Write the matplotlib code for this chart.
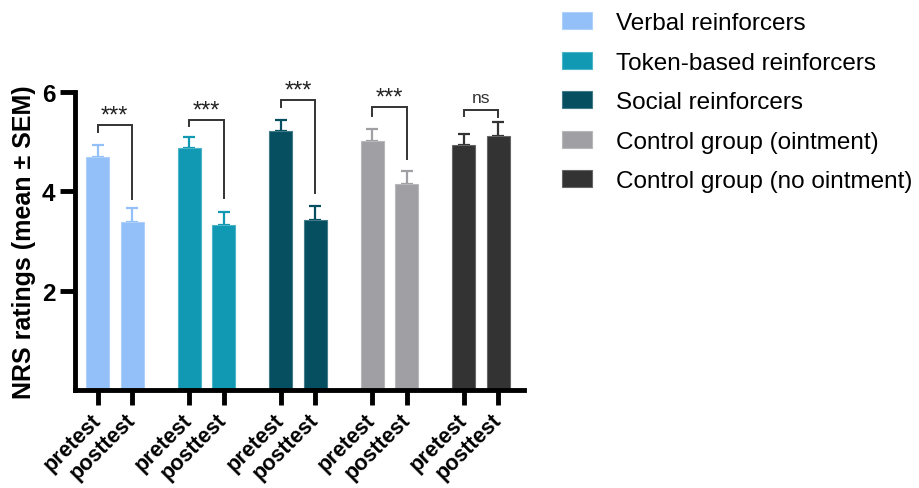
import matplotlib
matplotlib.use('Agg')
import matplotlib.pyplot as plt
from matplotlib.colors import to_rgb
import numpy as np

plt.rcParams['font.family'] = ['Liberation Sans', 'DejaVu Sans']

# ── Dados ──────────────────────────────────────────────────────────────────
grupos = ['Verbal reinforcers', 'Token-based reinforcers', 'Social reinforcers',
          'Control group (ointment)', 'Control group (no ointment)']
cores = ['#93C0F8', '#1199B3', '#054F60', '#A0A0A4', '#333333']
fases = ['pretest', 'posttest']
media_pre = [4.70, 4.87, 5.21, 5.02, 4.93]
media_pos = [3.39, 3.32, 3.42, 4.14, 5.11]
sem_pre = [0.23, 0.22, 0.22, 0.23, 0.23]
sem_pos = [0.28, 0.27, 0.29, 0.27, 0.28]
signif = ['***', '***', '***', '***', 'ns']
# alturas do colchete: (perna esquerda, topo, perna direita)
colchete = [(5.19, 5.33, 3.84), (5.32, 5.43, 3.87), (5.69, 5.83, 3.97),
            (5.51, 5.69, 4.65), (5.51, 5.64, 5.49)]


def clarear(c, f=0.25):
    r, g, b = to_rgb(c)
    return (r + (1 - r) * f, g + (1 - g) * f, b + (1 - b) * f)


# ── Figura ─────────────────────────────────────────────────────────────────
fig = plt.figure(figsize=(9.19, 4.89), dpi=100)
ax = fig.add_axes([0.0816, 0.2004, 0.4886, 0.6094])

passo = 2.65
larg = 0.667
xs, rotulos = [], []
for i, g in enumerate(grupos):
    x0 = i * passo
    x1 = x0 + 1
    for x, m, s in [(x0, media_pre[i], sem_pre[i]), (x1, media_pos[i], sem_pos[i])]:
        ax.bar(x, m, width=larg, color=cores[i], edgecolor=clarear(cores[i]),
               linewidth=0.8, label=g if x == x0 else None, zorder=2)
        ax.errorbar(x, m, yerr=[[0], [s]], fmt='none', ecolor=cores[i],
                    elinewidth=1.6, capsize=4.5, capthick=1.6, zorder=1)
    xs += [x0, x1]
    rotulos += fases

    # colchete de significância
    yl, yt, yr = colchete[i]
    ax.plot([x0, x0, x1, x1], [yl, yt, yt, yr], color='#333333', lw=1.4,
            solid_joinstyle='miter', zorder=3)
    if signif[i] == 'ns':
        ax.text((x0 + x1) / 2, yt + 0.09, 'ns', ha='center', va='bottom',
                fontsize=12.5, color='#333333')
    else:
        ax.text((x0 + x1) / 2, yt - 0.02, '***', ha='center', va='bottom',
                fontsize=17, color='#222222')

ax.set_xlim(-0.652, 4 * passo + 1 + 0.74)
ax.set_ylim(0, 6)
ax.set_yticks([2, 4, 6])
ax.set_yticklabels(['2', '4', '6'], fontsize=17.5, fontweight='bold')
ax.set_xticks(xs)
ax.set_xticklabels(rotulos, rotation=45, ha='right', va='center',
                   rotation_mode='anchor', fontsize=15.5, fontweight='bold')
ax.tick_params(axis='x', length=11, width=3.5, pad=8)
ax.tick_params(axis='y', length=11, width=3.5, pad=3)
ax.set_ylabel('NRS ratings (mean ± SEM)', fontsize=18, fontweight='bold',
              labelpad=4)

for lado in ['top', 'right']:
    ax.spines[lado].set_visible(False)
for lado in ['left', 'bottom']:
    ax.spines[lado].set_linewidth(3.5)

ax.legend(loc='upper left', bbox_to_anchor=(1.062, 1.30), frameon=False,
          fontsize=17.5, handlelength=1.25, handleheight=0.7, handletextpad=1.0,
          labelspacing=0.72, borderaxespad=0)

plt.savefig('out.png', dpi=100)
plt.close()
